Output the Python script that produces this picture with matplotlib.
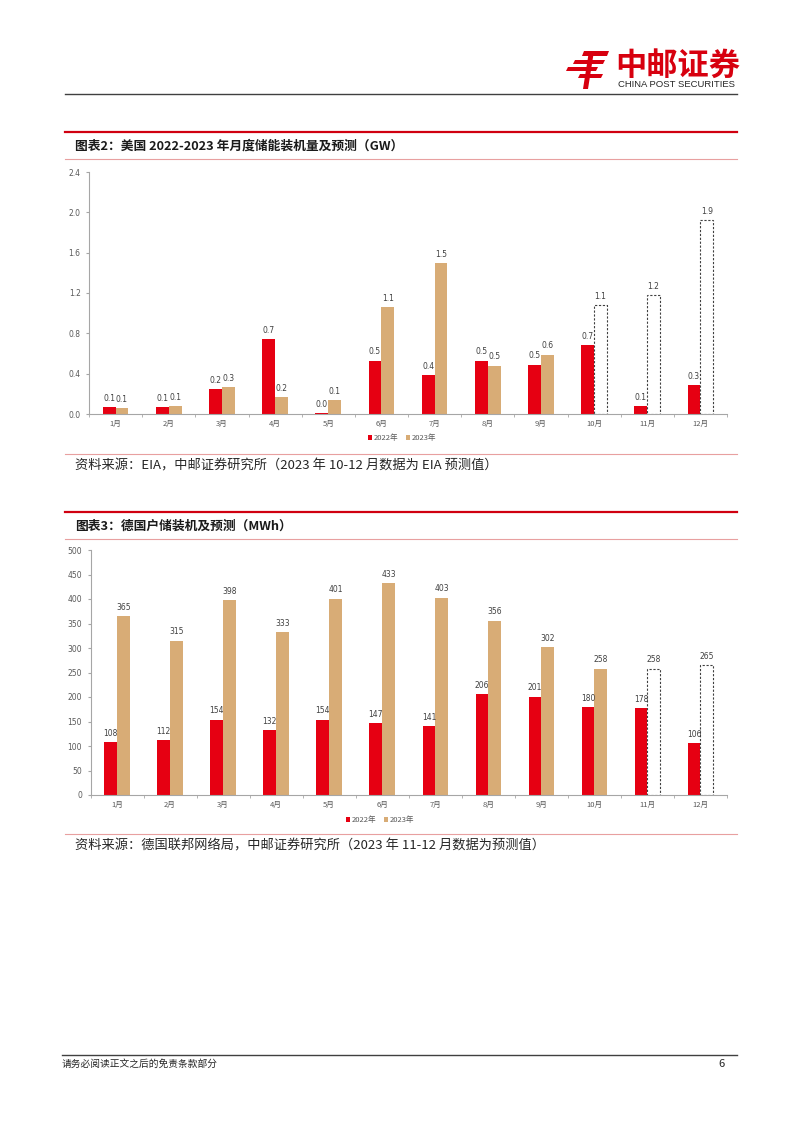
import matplotlib.pyplot as plt
from matplotlib.lines import Line2D
from matplotlib.patches import Polygon

plt.rcParams['font.family'] = ['Noto Sans CJK SC', 'DejaVu Sans']

months = ['1月', '2月', '3月', '4月', '5月', '6月', '7月', '8月', '9月', '10月', '11月', '12月']

# chart 1: US monthly storage installs (GW)
us_2022 = [0.07, 0.07, 0.25, 0.74, 0.01, 0.53, 0.39, 0.53, 0.49, 0.68, 0.08, 0.29]
us_2023 = [0.06, 0.08, 0.27, 0.17, 0.14, 1.06, 1.50, 0.48, 0.59]
us_2023_fc = [1.08, 1.18, 1.92]          # EIA forecast for Oct-Dec

# chart 2: German residential storage (MWh)
de_2022 = [108, 112, 154, 132, 154, 147, 141, 206, 201, 180, 178, 106]
de_2023 = [365, 315, 398, 333, 401, 433, 403, 356, 302, 258]
de_2023_fc = [258, 265]                  # forecast for Nov-Dec

RED = '#E60012'
TAN = '#D8AC76'
GRAY = '#595959'
W, H = 802, 1133


def fx(x):
    return x / W


def fy(y):
    return 1 - y / H


def hline(fig, y, x0, x1, color, lw):
    fig.add_artist(Line2D([fx(x0), fx(x1)], [fy(y), fy(y)], color=color, lw=lw))


def bar_chart(fig, rect, v22, v23, v23fc, ymax, ystep, fmt):
    ax = fig.add_axes(rect)
    x = list(range(len(months)))
    w = 0.24
    x22 = [i - w / 2 for i in x]
    x23 = [i + w / 2 for i in x[:len(v23)]]
    xfc = [i + w / 2 for i in x[len(v23):]]
    b1 = ax.bar(x22, v22, w, color=RED, label='2022年')
    b2 = ax.bar(x23, v23, w, color=TAN, label='2023年')
    b3 = ax.bar(xfc, v23fc, w, fill=False, edgecolor='#404040',
                linestyle=(0, (2, 1.5)), linewidth=0.8)
    for bars in (b1, b2, b3):
        for r in bars:
            ax.annotate(fmt % r.get_height(), (r.get_x() + r.get_width() / 2, r.get_height()),
                        xytext=(0, 3), textcoords='offset points', ha='center', va='bottom',
                        fontsize=5.5, color='#404040', family=['DejaVu Sans'])
    ax.set_xlim(-0.5, len(months) - 0.5)
    ax.set_ylim(0, ymax)
    ticks = [i * ystep for i in range(int(round(ymax / ystep)) + 1)]
    ax.set_yticks(ticks)
    ax.set_yticklabels([fmt % t for t in ticks], fontsize=5.5, color=GRAY, family=['DejaVu Sans'])
    ax.set_xticks(x)
    ax.set_xticklabels(months, fontsize=5.5, color=GRAY)
    ax.set_xticks([i + 0.5 for i in range(-1, len(months))], minor=True)
    ax.tick_params(axis='x', which='major', length=0, pad=4)
    ax.tick_params(axis='x', which='minor', length=2.5, color='#A6A6A6')
    ax.tick_params(axis='y', length=2, color='#A6A6A6', pad=4)
    for s in ('top', 'right'):
        ax.spines[s].set_visible(False)
    for s in ('left', 'bottom'):
        ax.spines[s].set_color('#A6A6A6')
        ax.spines[s].set_linewidth(0.8)
    return ax, b1, b2


fig = plt.figure(figsize=(8.02, 11.33), dpi=100)

# header logo
logo = [
    [(584, 51), (609, 51), (607, 56), (582, 56)],
    [(575, 60), (605, 60), (603, 64), (573, 64)],
    [(568, 67), (598, 67), (596, 71), (566, 71)],
    [(580, 74), (603, 74), (601, 78), (578, 78)],
    [(589, 51), (594, 51), (588, 89), (583, 89)],
]
for pts in logo:
    fig.add_artist(Polygon([(fx(a), fy(b)) for a, b in pts], closed=True,
                           facecolor='#D7000F', edgecolor='none'))
fig.text(fx(615), fy(66), '中邮证券', fontsize=22.5, fontweight='bold', color='#D7000F', va='center')
fig.text(fx(618), fy(84.5), 'CHINA POST SECURITIES', fontsize=6.8, color='#262626',
         va='center', family=['Liberation Sans'])
hline(fig, 94, 65, 737, '#404040', 1.0)

# chart 1
hline(fig, 132, 65, 737, '#D00010', 1.6)
fig.text(fx(75), fy(146), '图表2：美国 2022-2023 年月度储能装机量及预测（GW）',
         fontsize=9.2, fontweight='bold', color='#1a1a1a', va='center')
hline(fig, 159, 65, 737, '#E8A0A0', 0.8)
ax1, a, b = bar_chart(fig, [fx(89), fy(414), fx(727) - fx(89), fy(172) - fy(414)],
                      us_2022, us_2023, us_2023_fc, 2.4, 0.4, '%.1f')
fig.legend([a, b], ['2022年', '2023年'], loc='center', bbox_to_anchor=(fx(402), fy(438)),
           ncol=2, frameon=False, fontsize=5.5, handlelength=0.6, handleheight=0.6,
           handletextpad=0.2, columnspacing=1.0, labelcolor=GRAY)
hline(fig, 454, 65, 737, '#E8A0A0', 0.8)
fig.text(fx(75), fy(466), '资料来源：EIA，中邮证券研究所（2023 年 10-12 月数据为 EIA 预测值）',
         fontsize=9.5, color='#262626', va='center')

# chart 2
hline(fig, 512, 65, 737, '#D00010', 1.6)
fig.text(fx(75), fy(526), '图表3：德国户储装机及预测（MWh）',
         fontsize=9.2, fontweight='bold', color='#1a1a1a', va='center')
hline(fig, 539, 65, 737, '#E8A0A0', 0.8)
ax2, a, b = bar_chart(fig, [fx(90.5), fy(795), fx(727) - fx(90.5), fy(550) - fy(795)],
                      de_2022, de_2023, de_2023_fc, 500, 50, '%d')
fig.legend([a, b], ['2022年', '2023年'], loc='center', bbox_to_anchor=(fx(380), fy(820)),
           ncol=2, frameon=False, fontsize=5.5, handlelength=0.6, handleheight=0.6,
           handletextpad=0.2, columnspacing=1.0, labelcolor=GRAY)
hline(fig, 834, 65, 737, '#E8A0A0', 0.8)
fig.text(fx(75), fy(846), '资料来源：德国联邦网络局，中邮证券研究所（2023 年 11-12 月数据为预测值）',
         fontsize=9.5, color='#262626', va='center')

# footer
hline(fig, 1055, 62, 737, '#404040', 1.0)
fig.text(fx(62), fy(1064), '请务必阅读正文之后的免责条款部分', fontsize=7, color='#262626', va='center')
fig.text(fx(718), fy(1064), '6', fontsize=8, color='#262626', va='center')

fig.savefig('out.png', dpi=100)
